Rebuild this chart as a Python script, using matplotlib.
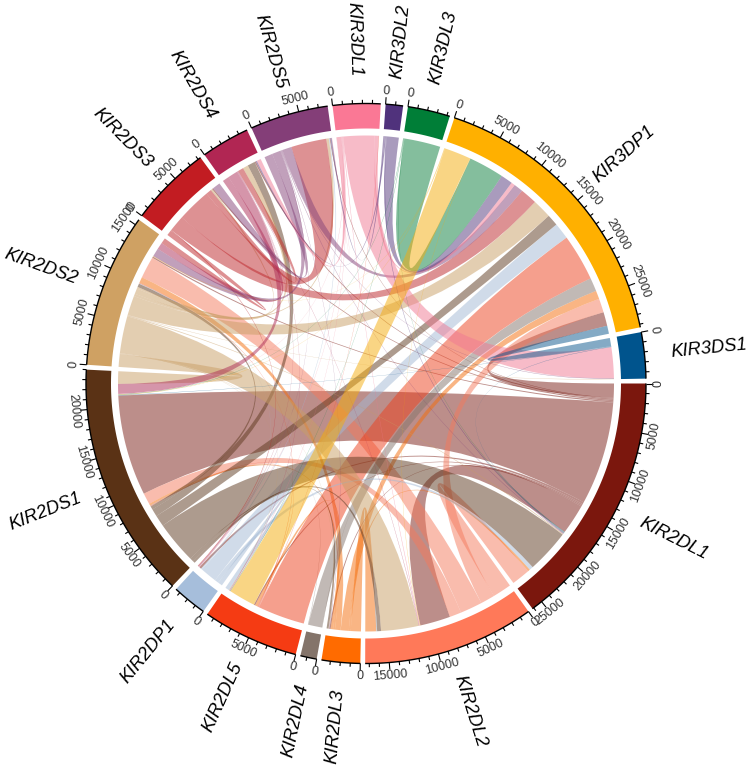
import matplotlib
matplotlib.use('Agg')
import numpy as np
import matplotlib.pyplot as plt
from matplotlib.colors import to_rgb
from matplotlib.path import Path
from matplotlib.patches import PathPatch, Polygon

plt.rcParams['font.family'] = ['Liberation Sans', 'DejaVu Sans']

# sectors, clockwise from 3 o'clock
genes = ['KIR2DL1', 'KIR2DL2', 'KIR2DL3', 'KIR2DL4', 'KIR2DL5', 'KIR2DP1', 'KIR2DS1', 'KIR2DS2',
         'KIR2DS3', 'KIR2DS4', 'KIR2DS5', 'KIR3DL1', 'KIR3DL2', 'KIR3DL3', 'KIR3DP1', 'KIR3DS1']
colors = ['#7B170D', '#FF7959', '#FF6B00', '#84746A', '#F53B13', '#A6BEDB', '#5A3215', '#CFA163',
          '#C21C22', '#B12653', '#843E78', '#FA7895', '#50327C', '#007E37', '#FFB000', '#00548D']
# sector lengths
sector_total = [26150, 17410, 3900, 1660, 9760, 3510, 24000, 15610,
                8290, 4930, 7950, 4830, 1760, 4290, 29320, 4680]

# links, one line for each source gene
link_from = (['KIR2DL1'] * 10 + ['KIR2DL2'] * 4 + ['KIR2DL3'] * 6 + ['KIR2DL4'] * 3 + ['KIR2DL5'] * 4
             + ['KIR2DP1'] * 6 + ['KIR2DS1'] * 6 + ['KIR2DS2'] * 10 + ['KIR2DS3'] * 5 + ['KIR2DS4'] * 5
             + ['KIR2DS5'] * 7 + ['KIR3DL1'] * 8 + ['KIR3DL2'] * 4 + ['KIR3DL3'] * 4 + ['KIR3DP1'] * 4
             + ['KIR3DS1'] * 3)
link_to = ['KIR3DP1', 'KIR2DS2', 'KIR2DS1', 'KIR2DL2', 'KIR2DS5', 'KIR2DS3', 'KIR2DP1', 'KIR2DL5', 'KIR2DL3', 'KIR2DS4',
           'KIR2DL1', 'KIR3DP1', 'KIR2DS2', 'KIR2DS1',
           'KIR2DL2', 'KIR2DL1', 'KIR3DP1', 'KIR2DS2', 'KIR2DS1', 'KIR2DL5',
           'KIR3DP1', 'KIR2DS1', 'KIR2DL2',
           'KIR3DP1', 'KIR2DS2', 'KIR2DS1', 'KIR3DL1',
           'KIR2DL5', 'KIR2DL1', 'KIR3DP1', 'KIR2DS5', 'KIR2DS2', 'KIR2DL2',
           'KIR2DL3', 'KIR2DL2', 'KIR2DL1', 'KIR3DP1', 'KIR2DS4', 'KIR2DS2',
           'KIR2DS1', 'KIR2DL2', 'KIR3DP1', 'KIR2DS4', 'KIR2DS3', 'KIR2DS5', 'KIR2DL1', 'KIR2DL5', 'KIR2DL3', 'KIR3DS1',
           'KIR2DS5', 'KIR3DP1', 'KIR2DS2', 'KIR2DS4', 'KIR2DP1',
           'KIR2DS2', 'KIR2DS1', 'KIR2DL2', 'KIR2DP1', 'KIR2DL5',
           'KIR3DP1', 'KIR2DS3', 'KIR2DS2', 'KIR2DL3', 'KIR2DL1', 'KIR2DP1', 'KIR3DS1',
           'KIR3DS1', 'KIR3DP1', 'KIR2DS4', 'KIR2DS5', 'KIR2DL2', 'KIR2DS1', 'KIR2DL5', 'KIR2DP1',
           'KIR3DP1', 'KIR2DS5', 'KIR2DL1', 'KIR2DS4',
           'KIR3DP1', 'KIR2DS1', 'KIR2DL5', 'KIR2DL1',
           'KIR2DL5', 'KIR2DL2', 'KIR2DS1', 'KIR2DS2',
           'KIR3DP1', 'KIR2DS1', 'KIR2DL1']
link_value = [1610, 150, 11710, 3420, 80, 150, 240, 150, 150, 150,
              2120, 1610, 2500, 1320,
              1220, 240, 980, 680, 240, 290,
              1560, 50, 50,
              5420, 70, 70, 50,
              490, 430, 1900, 100, 50, 50,
              240, 440, 4950, 1320, 880, 390,
              1460, 4250, 2240, 630, 200, 290, 100, 50, 50, 50,
              4050, 1950, 640, 660, 100,
              780, 1150, 50, 50, 50,
              1070, 940, 980, 50, 70, 50, 70,
              3510, 440, 490, 50, 70, 50, 50, 50,
              1370, 150, 100, 140,
              4100, 50, 50, 50,
              3070, 50, 50, 50,
              930, 50, 50]

cx, cy = 366, 383.5
r_out, r_in, r_link = 280, 255, 248
gap = 1.0
n = len(genes)


def pts(r, a):
    a = np.radians(a)
    return np.column_stack((cx + r * np.cos(a), cy + r * np.sin(a)))


idx = [genes.index(g) for g in link_from]
jdx = [genes.index(g) for g in link_to]
link_sum = np.zeros(n)
for i, j, v in zip(idx, jdx, link_value):
    link_sum[i] += v
    link_sum[j] += v
per_unit = (360 - n * gap) / sum(sector_total)

# own links first, then the incoming ones, both walking back round the circle
starts = np.zeros(n)
ends_out = {}
ends_in = {}
a = 0.0
for s in range(n):
    starts[s] = a
    fit = sector_total[s] / link_sum[s] * per_unit  # my link readings do not add up exactly
    own = [k for k in range(len(idx)) if idx[k] == s]
    own.sort(key=lambda k: (s - jdx[k]) % n)
    inc = [k for k in range(len(idx)) if jdx[k] == s]
    inc.sort(key=lambda k: (s - idx[k]) % n)
    for k in own:
        ends_out[k] = (a, a + link_value[k] * fit)
        a += link_value[k] * fit
    for k in inc:
        ends_in[k] = (a, a + link_value[k] * fit)
        a += link_value[k] * fit
    a += gap

fig = plt.figure(figsize=(7.5, 7.68), dpi=100)
ax = fig.add_axes([0, 0, 1, 1])
ax.set_xlim(0, 750)
ax.set_ylim(768, 0)
ax.axis('off')

for k in range(len(idx)):
    a0, a1 = ends_out[k]
    b0, b1 = ends_in[k]
    arc_a = pts(r_link, np.linspace(a0, a1, 30))
    arc_b = pts(r_link, np.linspace(b0, b1, 30))
    verts = list(arc_a) + [(cx, cy)] + list(arc_b) + [(cx, cy), tuple(arc_a[0]), tuple(arc_a[0])]
    codes = ([Path.MOVETO] + [Path.LINETO] * 29 + [Path.CURVE3, Path.CURVE3] + [Path.LINETO] * 29
             + [Path.CURVE3, Path.CURVE3, Path.CLOSEPOLY])
    # ribbons in the reference are a little greyer than the plain sector colour
    fc = 0.92 * np.array(to_rgb(colors[idx[k]])) + 0.08 * 0.5
    ax.add_patch(PathPatch(Path(verts, codes), facecolor=fc, edgecolor='none', alpha=0.5, lw=0))

for s in range(n):
    a0 = starts[s]
    a1 = a0 + sector_total[s] * per_unit
    arc = np.linspace(a0, a1, 100)
    ax.add_patch(Polygon(np.vstack((pts(r_out, arc), pts(r_in, arc[::-1]))), closed=True,
                         facecolor=colors[s], edgecolor='none'))
    xy = pts(r_out, arc)
    ax.plot(xy[:, 0], xy[:, 1], color='black', lw=1.0, solid_capstyle='butt')

    # axis ticks every 1000, labelled every 5000
    for t in range(0, sector_total[s] + 1, 1000):
        th = a0 + t * per_unit
        major = t % 5000 == 0
        p = pts(np.array([r_out, r_out + (7 if major else 3.7)]), th)
        ax.plot(p[:, 0], p[:, 1], color='black', lw=0.8, solid_capstyle='butt')
        if major:
            q = pts(293, th)[0]
            rot = 90 - th if th % 360 < 180 else 270 - th
            ax.text(q[0], q[1], str(t), fontsize=9, color='#333333', rotation=rot,
                    rotation_mode='anchor', ha='center', va='center')

    mid = (a0 + a1) / 2
    q = pts(307, mid)[0]
    if np.cos(np.radians(mid)) > 0:
        ax.text(q[0], q[1], genes[s], fontsize=13.2, style='italic', rotation=-mid,
                rotation_mode='anchor', ha='left', va='center')
    else:
        ax.text(q[0], q[1], genes[s], fontsize=13.2, style='italic', rotation=180 - mid,
                rotation_mode='anchor', ha='right', va='center')

fig.savefig('out.png', dpi=100)
